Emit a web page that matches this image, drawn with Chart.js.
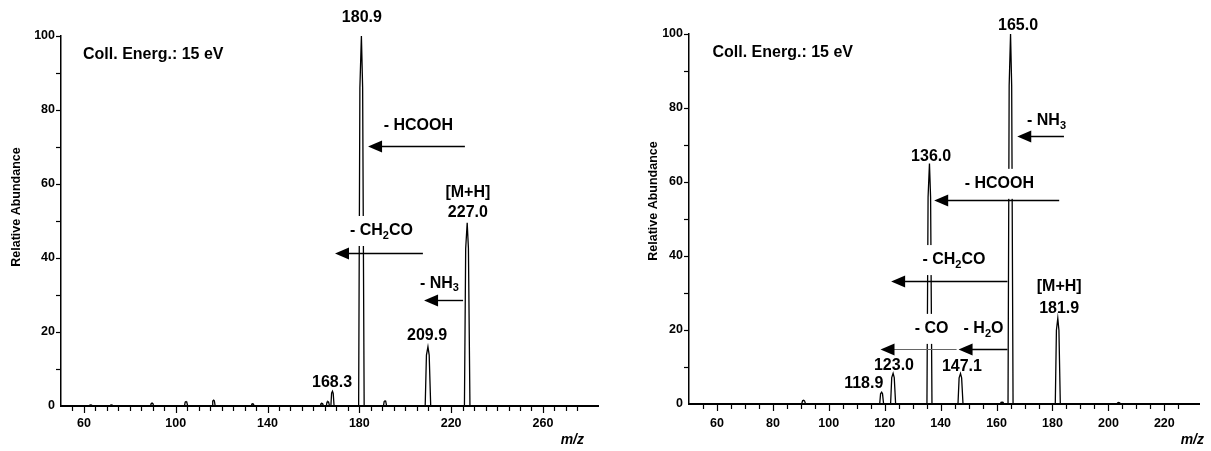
<!DOCTYPE html>
<html><head><meta charset="utf-8">
<script src="https://cdn.jsdelivr.net/npm/chart.js@4/dist/chart.umd.min.js"></script>
<style>
html,body{margin:0;padding:0;background:#fff;}
#wrap{position:relative;width:1211px;height:451px;overflow:hidden;background:#fff;}
.box{position:absolute;top:0;height:451px;}
#b1{left:0;width:615px;}
#b2{left:615px;width:596px;}
</style></head><body>
<div id="wrap">
  <div class="box" id="b1"><canvas id="c1"></canvas></div>
  <div class="box" id="b2"><canvas id="c2"></canvas></div>
</div>
<script>
// ---------- data ----------
const leftMz    = [63.0, 72.0, 89.7, 104.5, 116.5, 133.5, 163.7, 166.3, 168.3, 180.9, 191.2, 209.9, 227.0];
const leftAbund = [0.3,  0.3,  0.8,  1.2,   1.6,   0.6,   0.7,   1.2,   4.0,   100,   1.4,   16.0,  49.5];
const rightMz    = [91.0, 118.9, 123.0, 136.0, 147.1, 162.0, 165.0, 181.9, 203.7];
const rightAbund = [1.0,  3.2,   8.3,   65.0,  8.2,   0.5,   100,   23.2,  0.4];

const leftXLabels  = [60, 100, 140, 180, 220, 260];
const rightXLabels = [60, 80, 100, 120, 140, 160, 180, 200, 220];
const yLabels      = [0, 20, 40, 60, 80, 100];

const xTitle = 'm/z';
const yTitle = 'Relative Abundance';
const energyLabel = 'Coll. Energ.: 15 eV';

// annotations in data units (m/z, relative abundance)
const leftTexts = [
  {x: 59.6,  y: 94.9, t: energyLabel, a: 'left'},
  {x: 181.1, y: 104.9, t: '180.9', a: 'center'},
  {x: 190.6, y: 75.7, t: '- HCOOH', a: 'left'},
  {x: 227.3, y: 57.6, t: '[M+H]', a: 'center'},
  {x: 227.3, y: 52.2, t: '227.0', a: 'center'},
  {x: 175.9, y: 47.3, t: '- CH_2CO', a: 'left', bg: true},
  {x: 206.4, y: 33.2, t: '- NH_3', a: 'left'},
  {x: 209.5, y: 18.9, t: '209.9', a: 'center'},
  {x: 168.1, y: 6.2,  t: '168.3', a: 'center'}
];
const leftArrows = [
  {from: 226.0, to: 183.8, y: 70.3},
  {from: 207.7, to: 169.4, y: 41.4},
  {from: 225.2, to: 208.2, y: 28.6}
];
const rightTexts = [
  {x: 58.4,  y: 95.1, t: energyLabel, a: 'left'},
  {x: 167.7, y: 102.4, t: '165.0', a: 'center'},
  {x: 170.9, y: 76.5, t: '- NH_3', a: 'left'},
  {x: 136.6, y: 66.8, t: '136.0', a: 'center'},
  {x: 148.6, y: 59.5, t: '- HCOOH', a: 'left', bg: true},
  {x: 133.5, y: 38.9, t: '- CH_2CO', a: 'left', bg: true},
  {x: 182.4, y: 31.6, t: '[M+H]', a: 'center'},
  {x: 182.4, y: 25.9, t: '181.9', a: 'center'},
  {x: 130.7, y: 20.3, t: '- CO', a: 'left', bg: true},
  {x: 148.2, y: 20.3, t: '- H_2O', a: 'left'},
  {x: 123.3, y: 10.3, t: '123.0', a: 'center'},
  {x: 112.5, y: 5.4,  t: '118.9', a: 'center'},
  {x: 147.6, y: 10.0, t: '147.1', a: 'center'}
];
const rightArrows = [
  {from: 184.1, to: 167.4, y: 72.4},
  {from: 182.4, to: 137.7, y: 55.1},
  {from: 163.9, to: 122.3, y: 33.2},
  {from: 163.9, to: 146.4, y: 14.9},
  {from: 145.7, to: 118.5, y: 14.9, light: true}
];

// ---------- styling ----------
const FAMILY = '"Liberation Sans", Arial, Helvetica, sans-serif';
const MAIN_FONT = 'bold 16px ' + FAMILY;
const SUB_FONT = 'bold 11px ' + FAMILY;

function peakProfile(mz, ab, hwBig) {
  const idx = mz.map((m, i) => i).sort((a, b) => mz[a] - mz[b]);
  const pts = [];
  idx.forEach(i => {
    const m = mz[i], h = ab[i];
    const hw = h < 5 ? 0.7 : hwBig;
    pts.push({x: m - hw, y: 0});
    pts.push({x: m - hw * 0.55, y: h * 0.86});
    pts.push({x: m, y: h});
    pts.push({x: m + hw * 0.45, y: h * 0.86});
    pts.push({x: m + hw, y: 0});
  });
  return pts;
}

function parseRich(s) {
  const segs = []; const re = /_(\d)/g; let last = 0, m;
  while ((m = re.exec(s))) {
    if (m.index > last) segs.push({t: s.slice(last, m.index), sub: false});
    segs.push({t: m[1], sub: true});
    last = re.lastIndex;
  }
  if (last < s.length) segs.push({t: s.slice(last), sub: false});
  return segs;
}

function drawRich(ctx, text, x, y, align, bg) {
  const segs = parseRich(text);
  let W = 0;
  segs.forEach(sg => { ctx.font = sg.sub ? SUB_FONT : MAIN_FONT; sg.w = ctx.measureText(sg.t).width; W += sg.w; });
  let sx = align === 'center' ? x - W / 2 : x;
  if (bg) { ctx.fillStyle = '#fff'; ctx.fillRect(sx - 3, y - 15, W + 6, 30); }
  ctx.fillStyle = '#000';
  ctx.textBaseline = 'middle';
  ctx.textAlign = 'left';
  segs.forEach(sg => {
    ctx.font = sg.sub ? SUB_FONT : MAIN_FONT;
    ctx.fillText(sg.t, sx, sg.sub ? y + 5 : y);
    sx += sg.w;
  });
}

function drawArrow(ctx, x1, x2, y, light) {
  const headLen = 14, half = 6;
  ctx.save();
  ctx.strokeStyle = light ? '#666' : '#000';
  ctx.fillStyle = '#000';
  ctx.lineWidth = light ? 1 : 1.4;
  ctx.beginPath(); ctx.moveTo(x1, y); ctx.lineTo(x2 + headLen - 1, y); ctx.stroke();
  ctx.beginPath(); ctx.moveTo(x2, y); ctx.lineTo(x2 + headLen, y - half); ctx.lineTo(x2 + headLen, y + half); ctx.closePath(); ctx.fill();
  ctx.restore();
}

function makeDecor(cfg) {
  return {
    id: 'decor',
    afterDraw(chart) {
      const ctx = chart.ctx, xs = chart.scales.x, ys = chart.scales.y, ca = chart.chartArea;
      ctx.save();
      // tick marks
      ctx.strokeStyle = '#000'; ctx.lineWidth = 1.2;
      xs.ticks.forEach(t => {
        const v = t.value; if (Math.abs(v / 5 - Math.round(v / 5)) > 1e-6) return;
        if (v <= xs.min) return;
        const px = Math.round(xs.getPixelForValue(v)) + 0.5;
        const len = cfg.xLabels.includes(v) ? 7 : 5;
        ctx.beginPath(); ctx.moveTo(px, ca.bottom); ctx.lineTo(px, ca.bottom + len); ctx.stroke();
      });
      ys.ticks.forEach(t => {
        const v = t.value; if (v <= 0) return;
        const py = Math.round(ys.getPixelForValue(v)) + 0.5;
        const len = 5;
        ctx.beginPath(); ctx.moveTo(ca.left - len, py); ctx.lineTo(ca.left, py); ctx.stroke();
      });
      // axis titles
      ctx.fillStyle = '#000';
      ctx.save();
      ctx.translate(cfg.yTitlePos[0], cfg.yTitlePos[1]);
      ctx.rotate(-Math.PI / 2);
      ctx.font = 'bold 12.5px ' + FAMILY; ctx.textAlign = 'center'; ctx.textBaseline = 'middle';
      ctx.fillText(yTitle, 0, 0);
      ctx.restore();
      ctx.font = 'italic bold 14px ' + FAMILY; ctx.textAlign = 'right'; ctx.textBaseline = 'middle';
      ctx.fillText(xTitle, cfg.xTitlePos[0], cfg.xTitlePos[1]);
      // annotations
      cfg.texts.forEach(tx => drawRich(ctx, tx.t, xs.getPixelForValue(tx.x), ys.getPixelForValue(tx.y), tx.a, tx.bg));
      cfg.arrows.forEach(ar => drawArrow(ctx, xs.getPixelForValue(ar.from), xs.getPixelForValue(ar.to), Math.round(ys.getPixelForValue(ar.y)) + 0.5, ar.light));
      ctx.restore();
    }
  };
}

function makeChart(canvasId, cfg) {
  const tickFont = {family: FAMILY, size: 12.5, weight: 'bold'};
  return new Chart(document.getElementById(canvasId), {
    type: 'line',
    data: {datasets: [{
      data: peakProfile(cfg.mz, cfg.ab, cfg.hw),
      borderColor: '#000', borderWidth: 1.3, pointRadius: 0, tension: 0, fill: false
    }]},
    options: {
      responsive: true, maintainAspectRatio: false, animation: false,
      layout: {padding: {left: 0, right: cfg.padRight, top: cfg.padTop, bottom: 0}},
      plugins: {legend: {display: false}, tooltip: {enabled: false}},
      scales: {
        x: {
          type: 'linear', min: 50, max: cfg.xMax,
          afterFit: s => { s.height = cfg.xHeight; },
          grid: {display: false, drawTicks: false},
          border: {display: true, color: '#000', width: 2},
          ticks: {stepSize: 5, autoSkip: false, maxRotation: 0, minRotation: 0, padding: cfg.xPad, color: '#000', font: tickFont,
            callback: v => cfg.xLabels.includes(v) ? String(v) : ''}
        },
        y: {
          min: 0, max: 100,
          afterFit: s => { s.width = cfg.yWidth; },
          grid: {display: false, drawTicks: false},
          border: {display: true, color: '#000', width: 1.5},
          ticks: {stepSize: 10, autoSkip: false, padding: 6, color: '#000', font: tickFont,
            callback: v => yLabels.includes(v) ? String(v) : ''}
        }
      }
    },
    plugins: [makeDecor(cfg)]
  });
}

makeChart('c1', {
  mz: leftMz, ab: leftAbund, hw: 1.2, xMax: 284, xLabels: leftXLabels,
  padRight: 17, padTop: 36, xHeight: 45, yWidth: 61, xPad: 10,
  yTitlePos: [17, 207], xTitlePos: [584, 440],
  texts: leftTexts, arrows: leftArrows
});
makeChart('c2', {
  mz: rightMz, ab: rightAbund, hw: 0.9, xMax: 232.4, xLabels: rightXLabels,
  padRight: 0, padTop: 34, xHeight: 47, yWidth: 74, xPad: 12,
  yTitlePos: [39, 201], xTitlePos: [589, 440],
  texts: rightTexts, arrows: rightArrows
});
</script>
</body></html>
